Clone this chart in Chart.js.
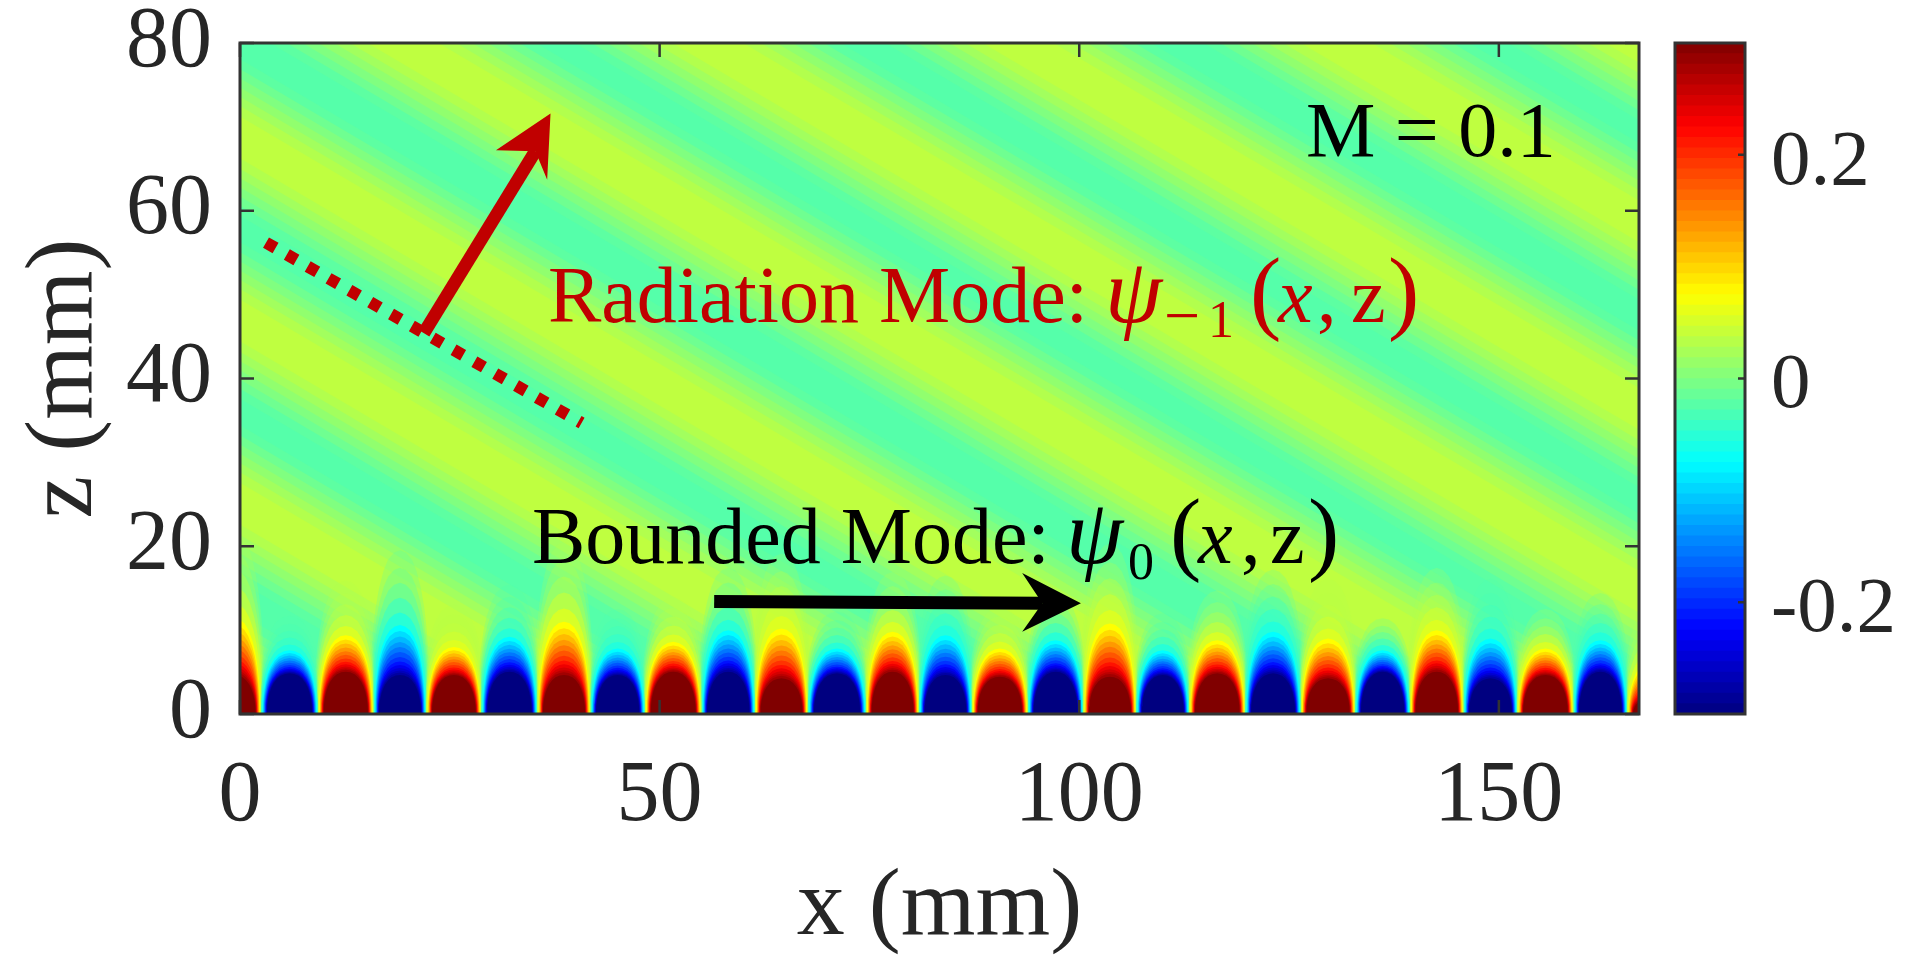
<!DOCTYPE html>
<html>
<head>
<meta charset="utf-8">
<style>
  html, body { margin: 0; padding: 0; background: #fff; overflow: hidden; }
  #field { position: absolute; left: 0; top: 0; }
  #bar { position: absolute; left: 1600px; top: 0; }
</style>
<script src="https://cdn.jsdelivr.net/npm/chart.js@4/dist/chart.umd.min.js"></script>
</head>
<body>
<canvas id="field" width="1915" height="971"></canvas>
<canvas id="bar" width="315" height="971"></canvas>
<script>
// axes
const xTicks = [0, 50, 100, 150];
const zTicks = [0, 20, 40, 60, 80];
const barTicks = [-0.2, 0, 0.2];

// radiation stripes: crest lines read at z = 100 and z = -20
const stripeXAtTop = [-165, -127, -90, -53, -14.5, 21.8, 58.8, 96.7, 133];
const stripeXAtBottom = [38.4, 76.4, 113.5, 150.5, 189, 225.3, 262.3, 300.2, 336.5];
const stripeValues = [-0.02, -0.01, 0, 0.01, 0.02, 0.03, 0.0375];
const stripeBandPx = [135, 118, 102, 86, 70, 54, 36];

// bounded mode: zero crossings along the grating, from left edge to right edge
const lobeEdges = [-4, 2.53, 9.28, 15.92, 22.2, 28.77, 35.44, 41.77, 48.24, 55, 61.36, 67.68, 74.6, 80.92,
  87.2, 93.88, 100.5, 106.8, 113.1, 119.8, 126.4, 132.9, 139.4, 145.8, 152.2, 158.9, 165.3, 172];
// height of the yellow / cyan contour of each lobe
const lobeTops = [11.5, 7.6, 9.4, 10.6, 8, 9.2, 11, 7.8, 8.6, 10, 10.2, 7.8, 9.8, 9.4, 7.8, 8.8, 10.8, 7.6,
  8.8, 9.8, 9, 7.6, 10, 9, 7.8, 8.8, 6.5];
// height of the saturated core of each lobe
const lobeCores = [4.65, 4.85, 5.05, 4.65, 4.65, 5.05, 4.65, 4.65, 5.05, 5.05, 4.25, 4.85, 5.05, 4.65, 4.45,
  5.05, 4.45, 4.65, 4.85, 4.85, 4.25, 5.05, 5.05, 4.25, 4.65, 5.05, 2];

// contour ladder, outermost first
const levelValues = [0.03, 0.035, 0.04, 0.05, 0.06, 0.075, 0.095, 0.115, 0.135, 0.155, 0.175, 0.195, 0.215, 0.235, 0.25, 0.265, 0.28, 0.3];
const levelHeights = [2.5, 2.15, 1.85, 1.55, 1.25, 1, 0.88, 0.77, 0.66, 0.56, 0.46, 0.36, 0.27, 0.2, 0.14, 0.09, 0.05, 0];
const levelWidths = [1.15, 1.12, 1.09, 1.06, 1.02, 0.97, 0.95, 0.93, 0.92, 0.9, 0.89, 0.875, 0.86, 0.85, 0.84, 0.83, 0.82, 0.8];
const levelAlphas = [0.2, 0.26, 0.34, 0.5, 0.7, 1, 1, 1, 1, 1, 1, 1, 1, 1, 1, 1, 1, 1];
const domeS = [0, 0.2, 0.4, 0.55, 0.7, 0.8, 0.88, 0.94, 0.98, 1];
const domeH = [1, 0.985, 0.94, 0.87, 0.76, 0.65, 0.52, 0.37, 0.2, 0];

// annotations
const dashX = [3.1, 40.7];
const dashZ = [56.2, 34.7];
const redShaftX = [21.9, 35.2];
const redShaftZ = [45.4, 67.1];
const redHeadX = [30.5, 37, 36.6, 35.2];
const redHeadZ = [67.2, 71.6, 63.7, 67.1];
const blackShaftX = [56.5, 95.6];
const blackShaftZ = [13.4, 13.2];
const blackHeadX = [93.2, 100.2, 93.2, 95.6];
const blackHeadZ = [16.8, 13.2, 9.8, 13.2];

function jet(v, alpha) {
  const t = Math.min(1, Math.max(0, (v + 0.3) / 0.6));
  const c = d => Math.round(255 * Math.min(1, Math.max(0, 1.5 - Math.abs(4 * t - d))));
  return `rgba(${c(3)},${c(2)},${c(1)},${alpha === undefined ? 1 : alpha})`;
}

const pts = (xs, zs) => xs.map((x, i) => ({ x, y: zs[i] }));

const datasets = [];
let order = 100000;

const line = (data, color, width, extra) => {
  datasets.push(Object.assign({
    data, borderColor: color, borderWidth: width, pointRadius: 0, showLine: true,
    tension: 0, fill: false, clip: 0, order: order--
  }, extra));
};

stripeValues.forEach((v, b) => {
  stripeXAtTop.forEach((x, i) => {
    line([{ x, y: 100 }, { x: stripeXAtBottom[i], y: -20 }], jet(v), stripeBandPx[b]);
  });
});

// nested domes, outer levels first so the inner ones paint over them
levelValues.forEach((v, l) => {
  lobeTops.forEach((top, i) => {
    const c = (lobeEdges[i] + lobeEdges[i + 1]) / 2;
    const w = (lobeEdges[i + 1] - lobeEdges[i]) / 2 * levelWidths[l];
    const h = lobeCores[i] + levelHeights[l] * (top - lobeCores[i]);
    const col = jet(i % 2 ? -v : v, levelAlphas[l]);
    const left = domeS.map((s, k) => ({ x: c - w * s, y: h * domeH[k] })).reverse();
    const right = domeS.slice(1).map((s, k) => ({ x: c + w * s, y: h * domeH[k + 1] }));
    line(left.concat(right), 'rgba(0,0,0,0)', 0, { fill: 'origin', backgroundColor: col });
  });
});

line(pts(dashX, dashZ), '#c00000', 12, { borderDash: [11, 13] });
line(pts(redShaftX, redShaftZ), '#c00000', 13);
line(pts(redHeadX, redHeadZ), 'rgba(0,0,0,0)', 0, { fill: 'shape', backgroundColor: '#c00000' });
line(pts(blackShaftX, blackShaftZ), '#000', 13);
line(pts(blackHeadX, blackHeadZ), 'rgba(0,0,0,0)', 0, { fill: 'shape', backgroundColor: '#000' });

const serif = '"Liberation Serif", "Times New Roman", serif';
const red = '#c00000';
// [text, left, baseline, size, style, colour]
const textItems = [
  ['M = 0.1', 1306, 156, 78, 'normal', '#000'],
  ['Radiation Mode:', 548, 322, 80, 'normal', red],
  ['ψ', 1105, 322, 92, 'italic', red],
  ['−', 1164, 337, 64, 'normal', red],
  ['1', 1208, 337, 52, 'normal', red],
  ['(', 1250, 322, 94, 'normal', red],
  ['x', 1278, 322, 78, 'italic', red],
  [',', 1317, 322, 78, 'normal', red],
  ['z', 1351, 322, 78, 'normal', red],
  [')', 1388, 322, 94, 'normal', red],
  ['Bounded Mode:', 532, 563, 80, 'normal', '#000'],
  ['ψ', 1066, 563, 92, 'italic', '#000'],
  ['0', 1128, 579, 52, 'normal', '#000'],
  ['(', 1170, 563, 94, 'normal', '#000'],
  ['x', 1198, 563, 78, 'italic', '#000'],
  [',', 1241, 563, 78, 'normal', '#000'],
  ['z', 1270, 563, 78, 'normal', '#000'],
  [')', 1308, 563, 94, 'normal', '#000']
];

const axisInk = '#333';

const plotDecor = {
  id: 'plotDecor',
  beforeDatasetsDraw(chart) {
    const a = chart.chartArea, ctx = chart.ctx;
    ctx.save();
    ctx.fillStyle = jet(-0.025);
    ctx.fillRect(a.left, a.top, a.right - a.left, a.bottom - a.top);
    ctx.restore();
  },
  afterDatasetsDraw(chart) {
    const a = chart.chartArea, ctx = chart.ctx;
    ctx.save();
    textItems.forEach(t => {
      ctx.font = `${t[4]} ${t[3]}px ${serif}`;
      ctx.fillStyle = t[5];
      ctx.textBaseline = 'alphabetic';
      ctx.textAlign = 'left';
      ctx.fillText(t[0], t[1], t[2]);
    });
    ctx.strokeStyle = axisInk;
    ctx.lineWidth = 2.5;
    ctx.beginPath();
    xTicks.forEach(v => {
      const p = chart.scales.x.getPixelForValue(v);
      ctx.moveTo(p, a.bottom); ctx.lineTo(p, a.bottom - 14);
      ctx.moveTo(p, a.top); ctx.lineTo(p, a.top + 14);
    });
    zTicks.forEach(v => {
      const p = chart.scales.y.getPixelForValue(v);
      ctx.moveTo(a.left, p); ctx.lineTo(a.left + 14, p);
      ctx.moveTo(a.right, p); ctx.lineTo(a.right - 14, p);
    });
    ctx.stroke();
    ctx.lineWidth = 3;
    ctx.strokeRect(a.left, a.top, a.right - a.left, a.bottom - a.top);
    ctx.restore();
  }
};

new Chart(document.getElementById('field'), {
  type: 'scatter',
  data: { datasets },
  plugins: [plotDecor],
  options: {
    responsive: false,
    animation: false,
    events: [],
    layout: { padding: { top: 43, right: 276, bottom: 0, left: 0 } },
    plugins: { legend: { display: false }, tooltip: { enabled: false } },
    scales: {
      x: {
        type: 'linear', min: 0, max: 166.7,
        afterBuildTicks(s) { s.ticks = xTicks.map(value => ({ value })); },
        afterFit(s) { s.height = 257; s.paddingLeft = 0; s.paddingRight = 0; },
        grid: { display: false }, border: { display: false },
        ticks: { color: '#262626', font: { family: serif, size: 86 }, padding: 24, maxRotation: 0 },
        title: { display: true, text: 'x (mm)', color: '#262626', font: { family: serif, size: 96, lineHeight: 1 }, padding: { top: 0, bottom: 14 } }
      },
      y: {
        type: 'linear', min: 0, max: 80,
        afterBuildTicks(s) { s.ticks = zTicks.map(value => ({ value })); },
        afterFit(s) { s.width = 240; s.paddingTop = 0; s.paddingBottom = 0; },
        grid: { display: false }, border: { display: false },
        ticks: { color: '#262626', font: { family: serif, size: 86 }, padding: 20 },
        title: { display: true, text: 'z (mm)', color: '#262626', font: { family: serif, size: 96, lineHeight: 1 }, padding: { top: 18, bottom: 0 } }
      }
    }
  }
});

// colour bar: one floating bar per colour of the map, each reaching down to the bottom so no seams show
const barColours = 64;
const barEdges = [];
for (let i = 0; i < barColours; i++) barEdges.push(-0.3 + (i + 1) * 0.6 / barColours);

const barDecor = {
  id: 'barDecor',
  afterDatasetsDraw(chart) {
    const a = chart.chartArea, ctx = chart.ctx;
    ctx.save();
    ctx.strokeStyle = axisInk;
    ctx.lineWidth = 2.5;
    ctx.beginPath();
    barTicks.forEach(v => {
      const p = chart.scales.y.getPixelForValue(v);
      ctx.moveTo(a.right, p); ctx.lineTo(a.right - 7, p);
    });
    ctx.stroke();
    ctx.lineWidth = 3;
    ctx.strokeRect(a.left, a.top, a.right - a.left, a.bottom - a.top);
    ctx.restore();
  }
};

new Chart(document.getElementById('bar'), {
  type: 'bar',
  data: {
    labels: [''],
    datasets: barEdges.map(e => ({
      data: [[-0.3, e]],
      backgroundColor: jet(e - 0.3 / barColours),
      barPercentage: 1,
      categoryPercentage: 1,
      grouped: false
    }))
  },
  plugins: [barDecor],
  options: {
    responsive: false,
    animation: false,
    events: [],
    layout: { padding: { top: 43, right: 0, bottom: 257, left: 75 } },
    plugins: { legend: { display: false }, tooltip: { enabled: false } },
    scales: {
      x: { display: false },
      y: {
        position: 'right', min: -0.3, max: 0.3,
        afterBuildTicks(s) { s.ticks = barTicks.map(value => ({ value })); },
        afterFit(s) { s.width = 170; s.paddingTop = 0; s.paddingBottom = 0; },
        grid: { display: false }, border: { display: false },
        ticks: { color: '#262626', font: { family: serif, size: 79 }, padding: 18, labelOffset: 8, callback: v => String(v) }
      }
    }
  }
});
</script>
</body>
</html>
